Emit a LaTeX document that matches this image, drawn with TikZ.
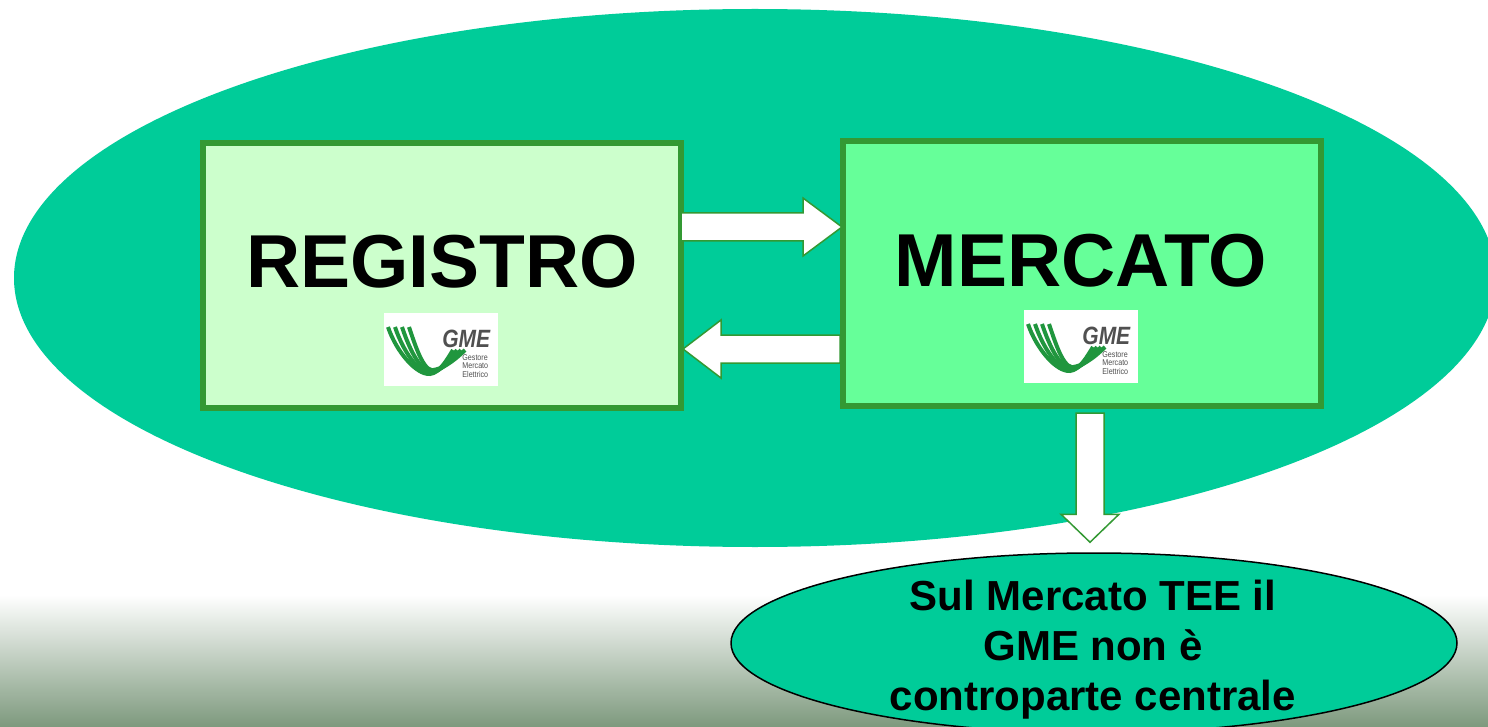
\documentclass[tikz,border=0pt]{standalone}
\usepackage{fontspec}
\setmainfont{Liberation Sans}           % Arial widths
\usepackage{tikz}
\usetikzlibrary{shapes.geometric}       % ellipse nodes
\usetikzlibrary{positioning}
\usetikzlibrary{calc}

\definecolor{zonaGreen}{RGB}{0,204,153}
\definecolor{boxBorder}{RGB}{51,153,51}
\definecolor{registroFill}{RGB}{204,255,204}
\definecolor{mercatoFill}{RGB}{102,255,153}
\definecolor{logoGreen}{RGB}{32,150,62}
\definecolor{logoGray}{RGB}{80,80,80}
\definecolor{groundGreen}{RGB}{125,153,125}

% block arrow: tail, tip, head length
\newcommand{\blockArrow}[3]{%
    \coordinate (headBase) at ($(#2)!#3!(#1)$);
    \draw[blockArrowStyle] ($(#1)!7pt!90:(#2)$) -- ($(headBase)!7pt!90:(#2)$) -- ($(headBase)!14.5pt!90:(#2)$)
        -- (#2) -- ($(headBase)!14.5pt!-90:(#2)$) -- ($(headBase)!7pt!-90:(#2)$) -- ($(#1)!7pt!-90:(#2)$) -- cycle;
}

\begin{document}
\begin{tikzpicture}[x = 0.5pt, y = -0.5pt,
                    zonaEllipse/.style     = {ellipse, fill = zonaGreen, inner sep = 0pt, minimum width = 741pt, minimum height = 269pt},
                    boxRectangle/.style    = {rectangle, draw = boxBorder, line width = 3pt, inner sep = 0pt, outer sep = 0pt,
                                              minimum width = 239pt, minimum height = 132.5pt},
                    titleText/.style       = {anchor = base, inner sep = 0pt, font = \bfseries\fontsize{37.5}{40}\selectfont},
                    blockArrowStyle/.style = {draw = boxBorder, line width = .75pt, fill = white, line join = miter},
                    noteEllipse/.style     = {ellipse, draw = black, line width = .75pt, fill = zonaGreen, inner sep = 0pt,
                                              minimum width = 363pt, minimum height = 90pt},
                    noteText/.style        = {align = center, inner sep = 0pt, font = \bfseries\fontsize{21}{25}\selectfont},
                    gmeLogo/.pic = {
                        \fill[white] (0,0) rectangle (114,73);
                        \foreach \k in {0,...,3}
                            \draw[logoGreen, line width = 2pt] (4+7*\k,14) .. controls (12+7*\k,38) and (32+3*\k,62) .. (46+2*\k,61-1.5*\k)
                                .. controls (56+2*\k,60-2*\k) and (64+3*\k,45) .. (69+4*\k,37);
                        \node[logoGray, anchor = base west, inner sep = 0pt, font = \bfseries\itshape\fontsize{12.5}{12.5}\selectfont] at (58,34) {\scalebox{0.84}[1]{GME}};
                        \foreach \word/\yy in {Gestore/47.3, Mercato/55.7, Elettrico/64}
                            \node[logoGray, anchor = base west, inner sep = 0pt, font = \fontsize{4.2}{4.2}\selectfont] at (78,\yy) {\scalebox{0.85}[1]{\word}};
                    }]
    \useasboundingbox (0,0) rectangle (1488,727);
    \clip (0,0) rectangle (1488,727);

    \fill[white] (0,0) rectangle (1488,727);
    \shade[top color = white, bottom color = groundGreen] (0,595) rectangle (1488,727);

    \node [zonaEllipse]                      (zona)     at (755,278)   {};

    \node [boxRectangle, fill = registroFill] (registro) at (442,275.5) {};
    \node [boxRectangle, fill = mercatoFill]  (mercato)  at (1082,273.5) {};

    \node [titleText] (registroTitle) at (442,287)  {REGISTRO};
    \node [titleText] (mercatoTitle)  at (1081,286) {MERCATO};

    \pic at (384,313)  {gmeLogo};
    \pic at (1024,310) {gmeLogo};

    \node [noteEllipse] (notaCentrale) at (1094,643) {};
    \node [noteText]    (notaText)     at (1093,650) {Sul Mercato TEE il\\GME non è\\controparte centrale};

    \coordinate (toMercatoTail)   at ($(registro.east)+(0,-48.5)$);
    \coordinate (toMercatoTip)    at ($(mercato.west)+(-1,-46.5)$);
    \coordinate (toRegistroTail)  at ($(mercato.west)+(-3,75.5)$);
    \coordinate (toRegistroTip)   at ($(registro.east)+(2,73.5)$);
    \coordinate (toNotaTail)      at ($(mercato.south)+(8,7)$);
    \coordinate (toNotaTip)       at ($(notaCentrale.north)+(-4,-10)$);

    \blockArrow{toMercatoTail}{toMercatoTip}{19.5pt}
    \blockArrow{toRegistroTail}{toRegistroTip}{19pt}
    \blockArrow{toNotaTail}{toNotaTip}{14pt}
\end{tikzpicture}
\end{document}
